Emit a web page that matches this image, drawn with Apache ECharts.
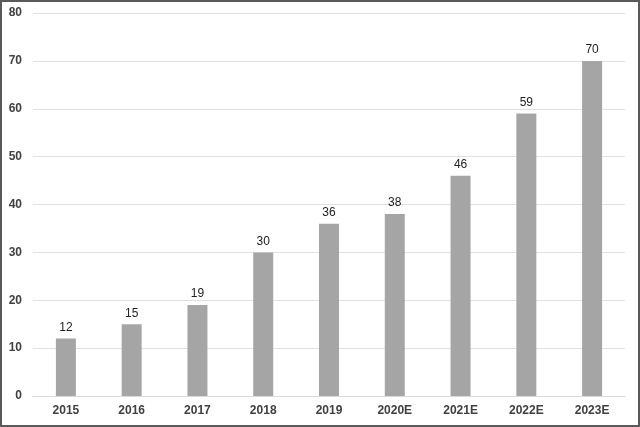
<!DOCTYPE html>
<html><head><meta charset="utf-8">
<script src="https://cdn.jsdelivr.net/npm/echarts@6/dist/echarts.min.js"></script>
<style>html,body{margin:0;padding:0;background:#fff}#c{width:640px;height:427px}</style>
</head><body><div id="c"></div>
<script>
const categories = ['2015','2016','2017','2018','2019','2020E','2021E','2022E','2023E'];
const values = [12,15,19,30,36,38,46,59,70];
const yTicks = {min:0, max:80, interval:10};

const chart = echarts.init(document.getElementById('c'), null, {renderer:'canvas'});
chart.setOption({
  animation:false,
  backgroundColor:'#fff',
  grid:{left:33, right:15, top:13, bottom:31},
  xAxis:{type:'category', data:categories,
    axisLine:{show:true, lineStyle:{color:'#d9d9d9'}}, axisTick:{show:false},
    axisLabel:{color:'#404040', fontSize:12, fontWeight:'bold', fontFamily:'Arial, Liberation Sans', margin:9}},
  yAxis:{type:'value', min:yTicks.min, max:yTicks.max, interval:yTicks.interval,
    axisLine:{show:false}, axisTick:{show:false},
    splitLine:{lineStyle:{color:'#e0e0e0'}},
    axisLabel:{color:'#404040', fontSize:12, fontWeight:'bold', fontFamily:'Arial, Liberation Sans', margin:11}},
  series:[{type:'bar', data:values, barWidth:20,
    itemStyle:{color:'#a5a5a5'},
    label:{show:true, position:'top', distance:5, color:'#222', fontSize:12, fontFamily:'Arial, Liberation Sans'}}],
  graphic:[{type:'rect', shape:{x:1,y:1,width:638,height:425}, style:{fill:'none', stroke:'#5a5a5a', lineWidth:2}, z:100}]
});
</script></body></html>
